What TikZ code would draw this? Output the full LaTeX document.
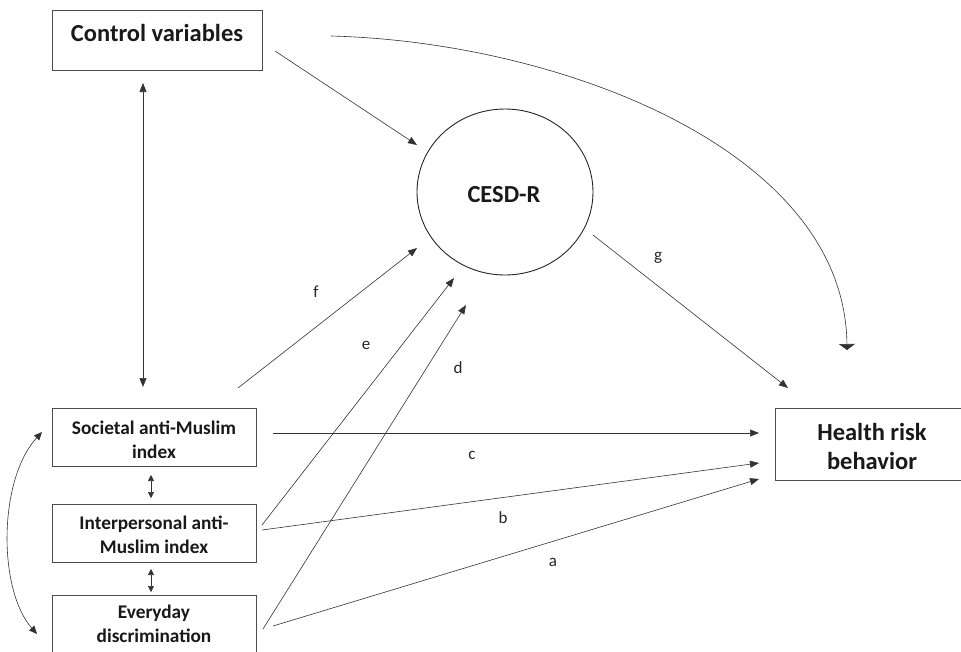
\documentclass[tikz,border=0pt]{standalone}
\usepackage{fontspec}
\setmainfont{Carlito}
\usetikzlibrary{arrows.meta,shapes.geometric}
\begin{document}
\begin{tikzpicture}[x=1pt,y=-1pt,
  box/.style={draw=black!70, line width=0.9pt, rectangle, inner sep=0pt, anchor=north west},
  big/.style={font=\fontsize{24.5}{29}\selectfont\bfseries, text=black!90, align=center, inner sep=0pt},
  mid/.style={font=\fontsize{19.3}{24}\selectfont\bfseries, text=black!90, align=center, inner sep=0pt},
  lab/.style={font=\fontsize{17}{20}\selectfont, text=black!85, inner sep=0pt},
  ln/.style={draw=black!80, line width=0.6pt},
  arr/.style={ln, -{Triangle[length=9pt,width=7pt]}},
  darr/.style={ln, {Triangle[length=9pt,width=7pt]}-{Triangle[length=9pt,width=7pt]}},
  sdarr/.style={ln, {Triangle[length=6pt,width=6pt]}-{Triangle[length=6pt,width=6pt]}},
]
\clip (0,0) rectangle (961,651);
\fill[white] (0,0) rectangle (961,651);

% boxes
\node[box, minimum width=210pt, minimum height=60pt] (ctrl) at (52,10) {};
\node[big] (ctrlT) at (157,33) {Control variables};
\node[draw=black!85, line width=0.9pt, ellipse, minimum width=176pt, minimum height=166pt, inner sep=0pt] (cesd) at (505,192) {};
\node[big] (cesdT) at (504,195) {CESD-R};
\node[box, minimum width=215pt, minimum height=72pt] (hrb) at (775,408) {};
\node[big] (hrbT) at (872,446) {Health risk\\behavior};
\node[box, minimum width=204pt, minimum height=58pt] (soc) at (52,408) {};
\node[mid] (socT) at (154,440) {Societal anti-Muslim\\index};
\node[box, minimum width=204pt, minimum height=58pt] (inter) at (52,504) {};
\node[mid] (interT) at (154,535) {Interpersonal anti-\\Muslim index};
\node[box, minimum width=204pt, minimum height=90pt] (every) at (52,595) {};
\node[mid] (everyT) at (154,624) {Everyday\\discrimination};

% coordinates
\coordinate (c1) at (143,83);  \coordinate (c2) at (143,387);
\coordinate (s1) at (151,475); \coordinate (s2) at (151,498);
\coordinate (s3) at (151,569); \coordinate (s4) at (151,592);
\coordinate (cvA) at (275,51); \coordinate (cvB) at (417,145);
\coordinate (cuA) at (331,36); \coordinate (cuB) at (847,350);
\coordinate (gA) at (593,235); \coordinate (gB) at (788,388);
\coordinate (fA) at (238,388); \coordinate (fB) at (417,248);
\coordinate (eA) at (262,525); \coordinate (eB) at (454,278);
\coordinate (dA) at (263,629); \coordinate (dB) at (466,305);
\coordinate (cA) at (273,433); \coordinate (cB) at (759,433);
\coordinate (bA) at (262,530); \coordinate (bB) at (759,463);
\coordinate (aA) at (273,626); \coordinate (aB) at (759,479);
\coordinate (lA) at (42,432); \coordinate (lB) at (37,634);

% connectors
\draw[darr] (c1) -- (c2);
\draw[sdarr] (s1) -- (s2);
\draw[sdarr] (s3) -- (s4);
\draw[arr] (cvA) -- (cvB);
\draw[ln, -{Triangle[length=6pt,width=16pt]}] (cuA) .. controls (560,42) and (845,150) .. (cuB);
\draw[arr] (gA) -- (gB);
\draw[arr] (fA) -- (fB);
\draw[arr] (eA) -- (eB);
\draw[arr] (dA) -- (dB);
\draw[arr] (cA) -- (cB);
\draw[arr] (bA) -- (bB);
\draw[arr] (aA) -- (aB);
\draw[ln, {Triangle[length=8pt,width=7pt]}-{Triangle[length=8pt,width=7pt]}] (lA) .. controls (-2,480) and (-2,590) .. (lB);

% labels
\node[lab] (lg) at (658,258) {g};
\node[lab] (lf) at (316,292) {f};
\node[lab] (le) at (366,345) {e};
\node[lab] (ld) at (458,368) {d};
\node[lab] (lc) at (472,455) {c};
\node[lab] (lb) at (503,518) {b};
\node[lab] (la) at (553,562) {a};
\end{tikzpicture}
\end{document}
